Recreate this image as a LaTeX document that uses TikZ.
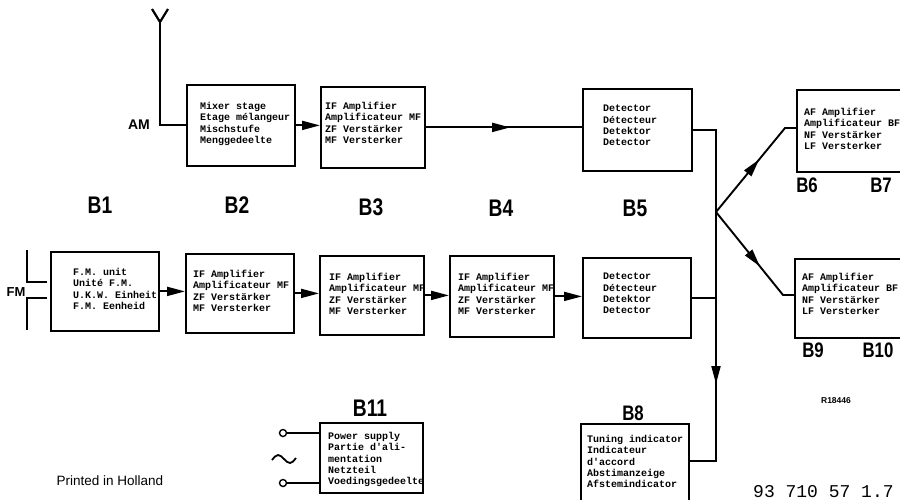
\documentclass[tikz,border=0pt]{standalone}
\usepackage{fontspec}
\setmainfont{Liberation Sans}
\newfontfamily\boxmono{Liberation Mono}
\usepackage{graphicx}
\usetikzlibrary{arrows.meta,decorations.markings}
\newcommand\blab[1]{\scalebox{0.8}[1]{#1}}
\tikzset{
  boxst/.style={draw, line width=1.8pt, rectangle, inner sep=0pt, anchor=north west},
  txt/.style={anchor=north west, inner sep=0pt, align=left,
    font=\boxmono\bfseries\fontsize{10}{11.3}\selectfont},
  conn/.style={line width=1.9pt},
  arr/.style={line width=1.9pt, -{Triangle[length=18pt,width=9pt]}},
  lab/.style={font=\bfseries\fontsize{24}{24}\selectfont, inner sep=0pt},
  labs/.style={font=\bfseries\fontsize{21}{21}\selectfont, inner sep=0pt},
  midarr/.style={postaction={decorate}, decoration={markings,
    mark=at position #1 with {\arrow{Triangle[length=18pt,width=9pt]}}}},
  term/.style={circle, draw, line width=1.4pt, inner sep=0pt, minimum size=7pt, fill=white},
}
\begin{document}
\begin{tikzpicture}[x=1pt,y=-1pt]
\useasboundingbox (0,0) rectangle (900,499);
\fill[white] (0,0) rectangle (900,499);
\clip (0,0) rectangle (900,499);

% ---- boxes ----
\node[boxst, minimum width=108pt, minimum height=81pt] (b2a) at (186,84) {};
\node[boxst, minimum width=104pt, minimum height=81pt] (b3a) at (320,86) {};
\node[boxst, minimum width=109pt, minimum height=82pt] (b5a) at (582,88) {};
\node[boxst, minimum width=110pt, minimum height=82pt] (b6) at (796,89) {};
\node[boxst, minimum width=108pt, minimum height=79pt] (b1) at (50,251) {};
\node[boxst, minimum width=108pt, minimum height=79pt] (b2b) at (185,253) {};
\node[boxst, minimum width=104pt, minimum height=79pt] (b3b) at (319,255) {};
\node[boxst, minimum width=104pt, minimum height=81pt] (b4) at (449,255) {};
\node[boxst, minimum width=108pt, minimum height=80pt] (b5b) at (582,257) {};
\node[boxst, minimum width=110pt, minimum height=79pt] (b9) at (794,258) {};
\node[boxst, minimum width=103pt, minimum height=70pt] (b11) at (319,422) {};
\node[boxst, minimum width=108pt, minimum height=90pt] (b8) at (580,423) {};

% ---- box texts ----
\node[txt] (t2a) at (200,102) {Mixer stage\\Etage mélangeur\\Mischstufe\\Menggedeelte};
\node[txt] (t3a) at (325,102) {IF Amplifier\\Amplificateur MF\\ZF Verstärker\\MF Versterker};
\node[txt] (t5a) at (603,105) {Detector\\Détecteur\\Detektor\\Detector};
\node[txt] (t6) at (804,108) {AF Amplifier\\Amplificateur BF\\NF Verstärker\\LF Versterker};
\node[txt] (t1) at (73,268) {F.M. unit\\Unité F.M.\\U.K.W. Einheit\\F.M. Eenheid};
\node[txt] (t2b) at (193,270) {IF Amplifier\\Amplificateur MF\\ZF Verstärker\\MF Versterker};
\node[txt] (t3b) at (329,273) {IF Amplifier\\Amplificateur MF\\ZF Verstärker\\MF Versterker};
\node[txt] (t4) at (458,273) {IF Amplifier\\Amplificateur MF\\ZF Verstärker\\MF Versterker};
\node[txt] (t5b) at (603,273) {Detector\\Détecteur\\Detektor\\Detector};
\node[txt] (t9) at (802,273) {AF Amplifier\\Amplificateur BF\\NF Verstärker\\LF Versterker};
\node[txt] (t11) at (328,432) {Power supply\\Partie d'ali-\\mentation\\Netzteil\\Voedingsgedeelte};
\node[txt] (t8) at (587,435) {Tuning indicator\\Indicateur\\d'accord\\Abstimanzeige\\Afstemindicator};

% ---- block labels ----
\node[lab] (lB1) at (100,205) {\blab{B1}};
\node[lab] (lB2) at (237,205) {\blab{B2}};
\node[lab] (lB3) at (371,207) {\blab{B3}};
\node[lab] (lB4) at (501,208) {\blab{B4}};
\node[lab] (lB5) at (635,208) {\blab{B5}};
\node[labs] (lB6) at (807,185) {\blab{B6}};
\node[labs] (lB7) at (881,185) {\blab{B7}};
\node[labs] (lB9) at (813,350) {\blab{B9}};
\node[labs] (lB10) at (878,350) {\blab{B10}};
\node[lab] (lB11) at (370,408) {\blab{B11}};
\node[labs] (lB8) at (633,413) {\blab{B8}};

% ---- other texts ----
\node[font=\bfseries\fontsize{14}{14}\selectfont, inner sep=0pt] (am) at (139,125) {AM};
\node[font=\bfseries\fontsize{13}{13}\selectfont, inner sep=0pt] (fm) at (16,292) {FM};
\node[font=\bfseries\fontsize{8.5}{8.5}\selectfont, inner sep=0pt] (rno) at (836,401) {R18446};
\node[font=\fontsize{13.5}{13.5}\selectfont, inner sep=0pt] (ph) at (110,481) {Printed in Holland};
\node[font=\boxmono\fontsize{18}{18}\selectfont, inner sep=0pt, anchor=base west] (num) at (753,497) {93 710 57 1.7};

% ---- antenna (AM input) ----
\coordinate (ay) at (160,22);
\draw[conn, line width=2.2pt] (152,9) -- (ay) -- (168,9);
\draw[conn] (ay) -- (ay |- b2a.west) -- (b2a.west);

% ---- FM input ----
\coordinate (f1) at (27,250);
\coordinate (f2) at (27,282);
\coordinate (f3) at (47,282);
\coordinate (f4) at (47,298);
\coordinate (f5) at (27,298);
\coordinate (f6) at (27,330);
\draw[conn] (f1) -- (f2) -- (f3);
\draw[conn] (f4) -- (f5) -- (f6);

% ---- AM chain ----
\draw[arr] (b2a.east) -- (b2a.east -| b3a.west);
\draw[conn, midarr=0.54] (b3a.east) -- (b3a.east -| b5a.west);

% ---- FM chain ----
\draw[arr] (b1.east) -- (b1.east -| b2b.west);
\draw[arr] (b2b.east) -- (b2b.east -| b3b.west);
\draw[arr] (b3b.east) -- (b3b.east -| b4.west);
\draw[arr] (b4.east) -- (b4.east -| b5b.west);

% ---- detector outputs and distribution ----
\coordinate (vx) at (716,0);
\coordinate (br) at (716,212);
\coordinate (j3) at (716,461);
\coordinate (jd) at (716,384);
\draw[conn] (b5a.east) -- (b5a.east -| vx) -- (vx |- j3) -- (j3 -| b8.east);
\draw[conn] (b5b.east) -- (b5b.east -| vx);
\draw[arr] (b5b.east -| vx) -- (jd);

\coordinate (d1) at (785,128);
\coordinate (d2) at (783,295);
\draw[conn, midarr=68pt] (br) -- (d1) -- (d1 -| b6.west);
\draw[conn, midarr=70pt] (br) -- (d2) -- (d2 -| b9.west);

% ---- power supply ----
\node[term] (c1) at (283,433) {};
\node[term] (c2) at (283,483) {};
\draw[conn] (c1.east) -- (c1.east -| b11.west);
\draw[conn] (c2.east) -- (c2.east -| b11.west);
\draw[line width=1.8pt] (272,460) sin (278,455) cos (284,459) sin (290,463) cos (296,458);
\end{tikzpicture}
\end{document}
